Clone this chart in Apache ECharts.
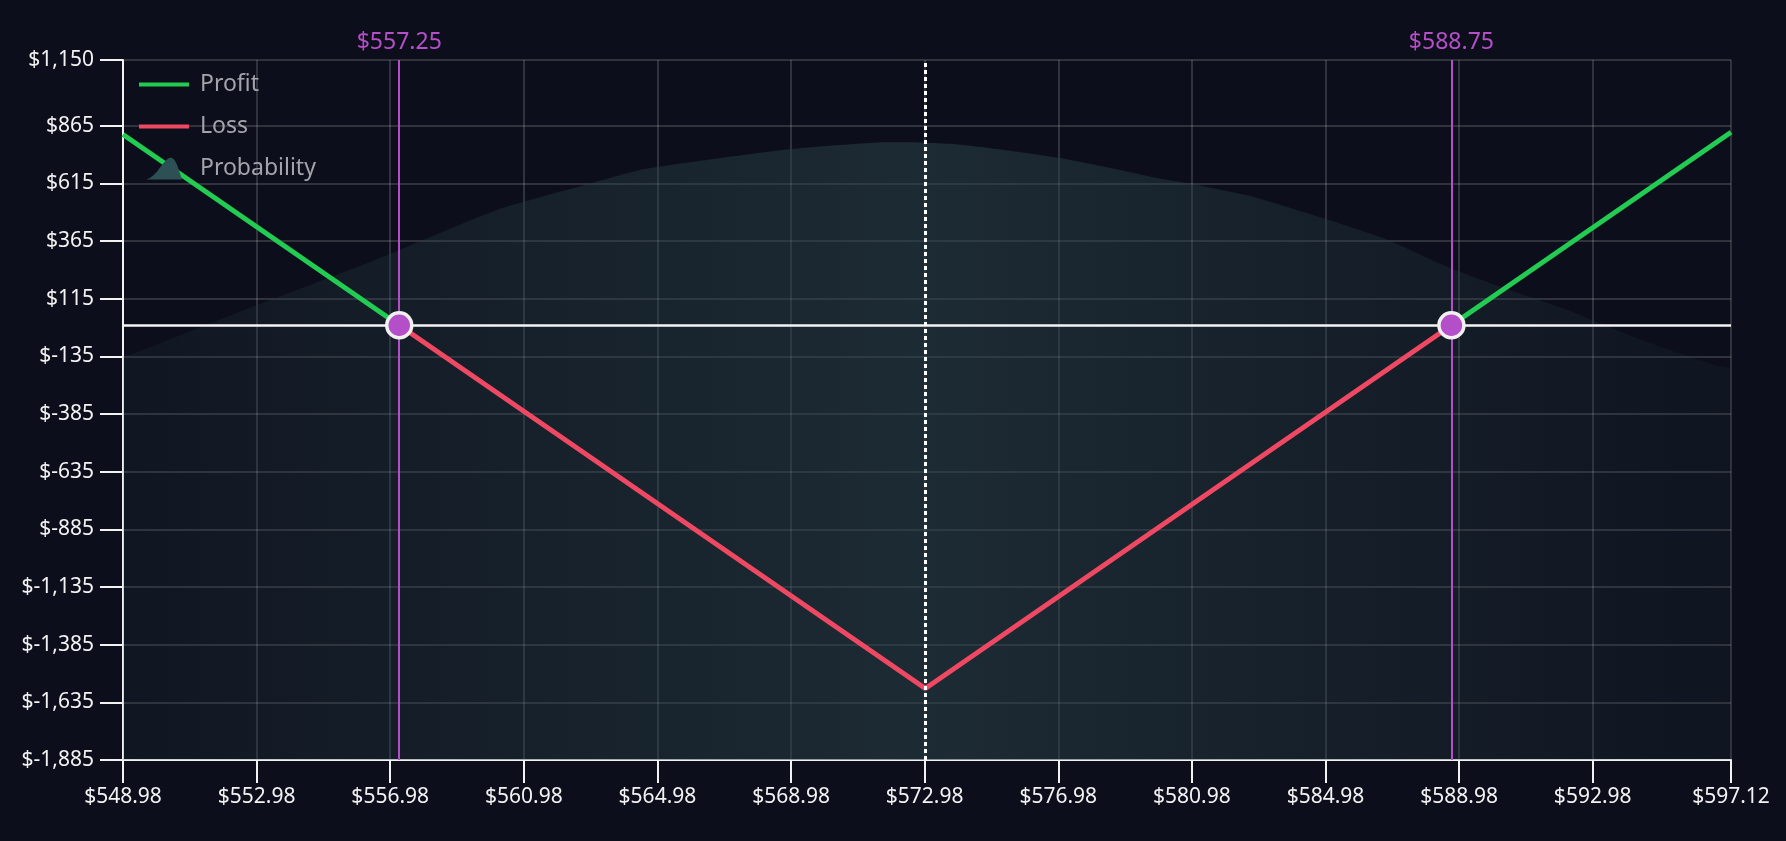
<!DOCTYPE html>
<html>
<head>
<meta charset="utf-8">
<title>Profit / Loss at Expiration</title>
<script src="https://cdn.jsdelivr.net/npm/echarts@6/dist/echarts.min.js"></script>
<style>
  html, body { margin: 0; padding: 0; background: #0c0f1b; }
  #chart { width: 1786px; height: 841px; }
</style>
</head>
<body>
<div id="chart"></div>
<script>
// tick labels
const priceTicks = [548.98, 552.98, 556.98, 560.98, 564.98, 568.98, 572.98, 576.98, 580.98, 584.98, 588.98, 592.98, 597.12];
const plTicks = [-1885, -1635, -1385, -1135, -885, -635, -385, -135, 115, 365, 615, 865, 1150];

// payoff at expiration
const payoffPrices = [548.98, 557.25, 573.0, 588.75, 597.12];
const payoffValues = [827, 0, -1575, 0, 837];

// breakevens and current price
const breakevens = [557.25, 588.75];
const currentPrice = 573.0;

// probability curve (scaled onto the P/L axis)
const probPrices = [548.98, 549.19, 552.78, 556.38, 560.18, 562.87, 564.55, 566.5, 568.74, 570.06, 571.85, 572.48,
  574.04, 575.54, 577.03, 578.83, 579.94, 581.23, 582.72, 584.91, 586.71, 588.62, 590.21, 592.22, 594.19, 596.59, 597.12];
const probValues = [-135, -129, 75, 274, 500, 610, 676, 718, 760, 777, 793, 793,
  783, 757, 725, 673, 638, 605, 560, 464, 377, 254, 167, 66, -50, -172, -185];

const GREEN = '#22cc52';
const RED = '#ef4862';
const PURPLE = '#b54fc9';
const FONT = 'Noto Sans';

// split the payoff polyline into profit and loss pieces
const profitData = [];
const lossData = [];
for (let i = 0; i < payoffPrices.length - 1; i++) {
  const a = [payoffPrices[i], payoffValues[i]];
  const b = [payoffPrices[i + 1], payoffValues[i + 1]];
  const isProfit = payoffValues[i] >= 0 && payoffValues[i + 1] >= 0;
  const target = isProfit ? profitData : lossData;
  const other = isProfit ? lossData : profitData;
  const last = target[target.length - 1];
  if (!last || last[0] !== a[0]) target.push(a);
  target.push(b);
  if (other.length && other[other.length - 1][1] !== '-') other.push([b[0], '-']);
}

const chart = echarts.init(document.getElementById('chart'));

const lineIcon = 'path://M0,0H50V4H0Z';
const bellIcon = 'path://M0,20C9,19 15,3 22,0C28,0 30,13 33,20Z';

const option = {
  backgroundColor: '#0c0f1b',
  animation: false,
  textStyle: { fontFamily: FONT },
  grid: { left: 123, right: 55, top: 60, bottom: 81 },
  legend: {
    orient: 'vertical',
    left: 139,
    top: 73,
    padding: 0,
    itemWidth: 50,
    itemHeight: 22,
    itemGap: 19,
    itemStyle: { borderWidth: 0 },
    textStyle: { color: '#a3a3ab', fontSize: 23, fontFamily: FONT, padding: [0, 0, 0, 6] },
    data: [
      { name: 'Profit', icon: lineIcon },
      { name: 'Loss', icon: lineIcon },
      { name: 'Probability', icon: bellIcon, itemStyle: { color: '#2c5053' } }
    ]
  },
  xAxis: {
    type: 'value',
    min: 548.98,
    max: 597.12,
    axisLine: { onZero: false, lineStyle: { color: '#f2f2f2', width: 2 } },
    axisTick: { show: true, length: 23, customValues: priceTicks, lineStyle: { color: '#f2f2f2', width: 2 } },
    axisLabel: {
      customValues: priceTicks,
      color: '#f2f2f2',
      fontSize: 21,
      fontFamily: FONT,
      margin: 27,
      formatter: v => '$' + v.toFixed(2)
    },
    splitLine: { show: true, lineStyle: { color: 'rgba(255,255,255,0.2)', width: 1.5 } }
  },
  yAxis: {
    type: 'value',
    min: -1885,
    max: 1150,
    axisLine: { show: true, onZero: false, lineStyle: { color: '#f2f2f2', width: 2 } },
    axisTick: { show: true, length: 23, customValues: plTicks, lineStyle: { color: '#f2f2f2', width: 2 } },
    axisLabel: {
      customValues: plTicks,
      color: '#f2f2f2',
      fontSize: 21,
      fontFamily: FONT,
      margin: 29,
      formatter: v => '$' + v.toLocaleString('en-US')
    },
    splitLine: { show: true, lineStyle: { color: 'rgba(255,255,255,0.2)', width: 1.5 } }
  },
  series: [
    {
      name: 'Probability',
      type: 'line',
      z: 1,
      data: probPrices.map((p, i) => [p, probValues[i]]),
      showSymbol: false,
      symbol: 'none',
      smooth: 0.2,
      lineStyle: { width: 0 },
      itemStyle: { color: '#2c5053' },
      areaStyle: {
        origin: 'start',
        opacity: 1,
        color: new echarts.graphic.LinearGradient(0, 0, 1, 0, [
          { offset: 0, color: 'rgba(40,62,68,0.16)' },
          { offset: 0.5, color: 'rgba(42,66,72,0.55)' },
          { offset: 1, color: 'rgba(40,62,68,0.12)' }
        ])
      }
    },
    {
      name: 'Profit',
      type: 'line',
      z: 3,
      data: profitData,
      showSymbol: false,
      symbol: 'none',
      connectNulls: false,
      itemStyle: { color: GREEN },
      lineStyle: { color: GREEN, width: 5 }
    },
    {
      name: 'Loss',
      type: 'line',
      z: 3,
      data: lossData,
      showSymbol: false,
      symbol: 'none',
      connectNulls: false,
      itemStyle: { color: RED },
      lineStyle: { color: RED, width: 5 }
    },
    {
      name: 'guides',
      type: 'line',
      z: 2,
      data: [],
      markLine: {
        silent: true,
        symbol: 'none',
        animation: false,
        data: [
          ...breakevens.map(b => ({
            xAxis: b,
            lineStyle: { color: PURPLE, width: 2, type: 'solid' },
            label: {
              show: true,
              position: 'end',
              distance: 6,
              color: PURPLE,
              fontSize: 23,
              fontFamily: FONT,
              formatter: '$' + b.toFixed(2)
            }
          })),
          { yAxis: 0, lineStyle: { color: '#f4f4f4', width: 2.5, type: 'solid' }, label: { show: false } }
        ]
      }
    },
    {
      name: 'current',
      type: 'line',
      z: 4,
      data: [],
      markLine: {
        silent: true,
        symbol: 'none',
        animation: false,
        data: [
          { xAxis: currentPrice, lineStyle: { color: '#ffffff', width: 3, type: [4, 3] }, label: { show: false } }
        ]
      }
    },
    {
      name: 'Breakeven',
      type: 'scatter',
      z: 5,
      data: breakevens.map(b => [b, 0]),
      symbol: 'circle',
      symbolSize: 25,
      itemStyle: { color: PURPLE, borderColor: '#f0f0f0', borderWidth: 3.5, opacity: 1 }
    }
  ]
};

chart.setOption(option);
window.addEventListener('resize', () => chart.resize());
</script>
</body>
</html>
